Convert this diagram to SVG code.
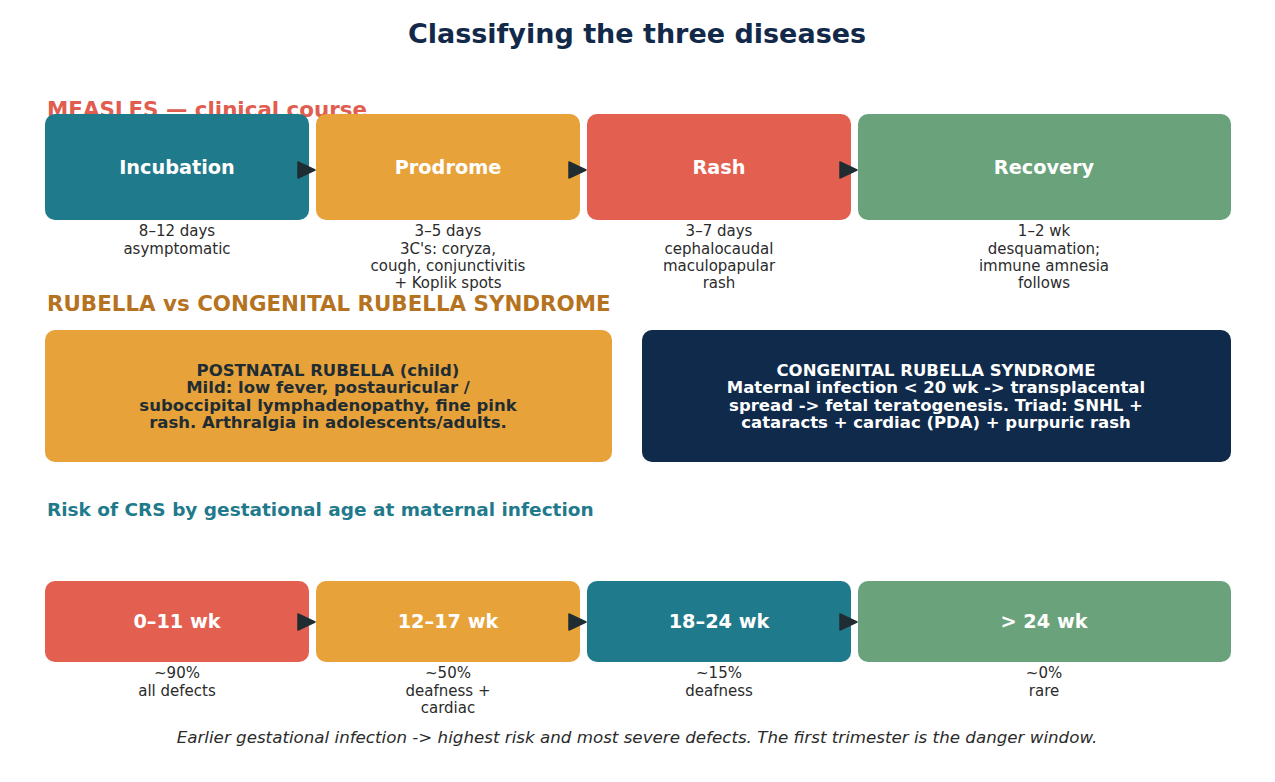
<svg xmlns="http://www.w3.org/2000/svg" width="1275" height="782" viewBox="0 0 1275 782">
<style>
text{font-family:"DejaVu Sans","Liberation Sans",sans-serif}
.title{font-size:27px;font-weight:bold;fill:#12294a;text-anchor:middle}
.h{font-size:21.4px;font-weight:bold}
.bl{font-size:19.3px;font-weight:bold;fill:#ffffff;text-anchor:middle}
.sub{font-size:15px;fill:#2b2b2b;text-anchor:middle}
.bt{font-size:16.5px;font-weight:bold;text-anchor:middle}
.teal{fill:#1f7a8c}.orange{fill:#e7a23a}.red{fill:#e35f50}.green{fill:#6aa37b}.navy{fill:#0f2a4a}
.conn{stroke:#1f2d33;stroke-width:2;fill:none}
.foot{font-size:16.7px;font-style:italic;fill:#2b2b2b;text-anchor:middle}
</style>
<defs>
<marker id="ah" markerUnits="userSpaceOnUse" markerWidth="20" markerHeight="20" refX="18" refY="9" orient="auto">
<path d="M1,1 L18,9 L1,17 z" fill="#1f2d33" stroke="#1f2d33" stroke-width="1.5" stroke-linejoin="round"/>
</marker>
</defs>
<rect width="1275" height="782" fill="#ffffff"/>
<text class="title" x="637" y="43">Classifying the three diseases</text>

<text class="h" x="47" y="117" fill="#e05d4f">MEASLES — clinical course</text>
<g id="incubation"><rect class="teal" x="45" y="114" width="264" height="106" rx="10"/><text class="bl" x="177" y="174">Incubation</text>
<text class="sub" x="177" y="236">8–12 days</text><text class="sub" x="177" y="254">asymptomatic</text></g>
<g id="prodrome"><rect class="orange" x="316" y="114" width="264" height="106" rx="10"/><text class="bl" x="448" y="174">Prodrome</text>
<text class="sub" x="448" y="236">3–5 days</text><text class="sub" x="448" y="254">3C's: coryza,</text><text class="sub" x="448" y="271">cough, conjunctivitis</text><text class="sub" x="448" y="288">+ Koplik spots</text></g>
<g id="rash"><rect class="red" x="587" y="114" width="264" height="106" rx="10"/><text class="bl" x="719" y="174">Rash</text>
<text class="sub" x="719" y="236">3–7 days</text><text class="sub" x="719" y="254">cephalocaudal</text><text class="sub" x="719" y="271">maculopapular</text><text class="sub" x="719" y="288">rash</text></g>
<g id="recovery"><rect class="green" x="858" y="114" width="373" height="106" rx="10"/><text class="bl" x="1044" y="174">Recovery</text>
<text class="sub" x="1044" y="236">1–2 wk</text><text class="sub" x="1044" y="254">desquamation;</text><text class="sub" x="1044" y="271">immune amnesia</text><text class="sub" x="1044" y="288">follows</text></g>

<text class="h" x="47" y="311" fill="#b5731f">RUBELLA vs CONGENITAL RUBELLA SYNDROME</text>
<g id="postnatal"><rect class="orange" x="45" y="330" width="567" height="132" rx="10"/>
<text class="bt" x="328" y="376" fill="#1f2d33">POSTNATAL RUBELLA (child)</text>
<text class="bt" x="328" y="393" fill="#1f2d33">Mild: low fever, postauricular /</text>
<text class="bt" x="328" y="411" fill="#1f2d33">suboccipital lymphadenopathy, fine pink</text>
<text class="bt" x="328" y="428" fill="#1f2d33">rash. Arthralgia in adolescents/adults.</text></g>
<g id="crs"><rect class="navy" x="642" y="330" width="589" height="132" rx="10"/>
<text class="bt" x="936" y="376" fill="#ffffff">CONGENITAL RUBELLA SYNDROME</text>
<text class="bt" x="936" y="393" fill="#ffffff">Maternal infection &lt; 20 wk -&gt; transplacental</text>
<text class="bt" x="936" y="411" fill="#ffffff">spread -&gt; fetal teratogenesis. Triad: SNHL +</text>
<text class="bt" x="936" y="428" fill="#ffffff">cataracts + cardiac (PDA) + purpuric rash</text></g>

<text x="47" y="516" font-size="18.5px" font-weight="bold" fill="#1f7a8c">Risk of CRS by gestational age at maternal infection</text>
<g id="wk0"><rect class="red" x="45" y="581" width="264" height="81" rx="10"/><text class="bl" x="177" y="628">0–11 wk</text>
<text class="sub" x="177" y="678">~90%</text><text class="sub" x="177" y="696">all defects</text></g>
<g id="wk12"><rect class="orange" x="316" y="581" width="264" height="81" rx="10"/><text class="bl" x="448" y="628">12–17 wk</text>
<text class="sub" x="448" y="678">~50%</text><text class="sub" x="448" y="696">deafness +</text><text class="sub" x="448" y="713">cardiac</text></g>
<g id="wk18"><rect class="teal" x="587" y="581" width="264" height="81" rx="10"/><text class="bl" x="719" y="628">18–24 wk</text>
<text class="sub" x="719" y="678">~15%</text><text class="sub" x="719" y="696">deafness</text></g>
<g id="wk24"><rect class="green" x="858" y="581" width="373" height="81" rx="10"/><text class="bl" x="1044" y="628">&gt; 24 wk</text>
<text class="sub" x="1044" y="678">~0%</text><text class="sub" x="1044" y="696">rare</text></g>

<g id="connectors">
<line class="conn" x1="300" y1="170" x2="315" y2="170" marker-end="url(#ah)"/>
<line class="conn" x1="571" y1="170" x2="586" y2="170" marker-end="url(#ah)"/>
<line class="conn" x1="842" y1="170" x2="857" y2="170" marker-end="url(#ah)"/>
<line class="conn" x1="300" y1="622" x2="315" y2="622" marker-end="url(#ah)"/>
<line class="conn" x1="571" y1="622" x2="586" y2="622" marker-end="url(#ah)"/>
<line class="conn" x1="842" y1="622" x2="857" y2="622" marker-end="url(#ah)"/>
</g>

<text class="foot" x="637" y="743">Earlier gestational infection -&gt; highest risk and most severe defects. The first trimester is the danger window.</text>
</svg>
